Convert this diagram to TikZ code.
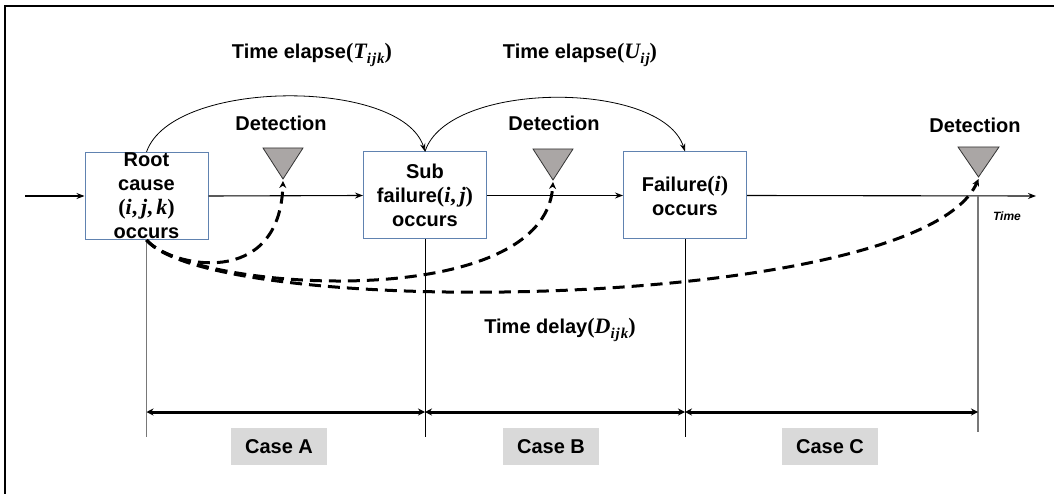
\documentclass[tikz,border=0pt]{standalone}
\usepackage{fontspec}
\setmainfont{Liberation Sans}
\newfontfamily\varserif{Liberation Serif}
\usetikzlibrary{arrows.meta}
% index variables set in a bold italic serif, as in the formulas
\newcommand\vx[1]{{\fontsize{22}{24}\selectfont\varserif\bfseries\itshape #1}}
\newcommand\vp[1]{{\fontsize{22}{24}\selectfont\varserif\bfseries #1}}
\newcommand\vsub[1]{\raisebox{-0.4ex}{\fontsize{15}{16}\selectfont\varserif\bfseries\itshape #1}}
\definecolor{boxedge}{RGB}{96,130,176}
\definecolor{detgray}{RGB}{170,166,165}
\definecolor{casegray}{RGB}{217,217,217}
\definecolor{guide}{RGB}{120,120,120}
\tikzset{
  lbl/.style={font=\fontsize{20}{24}\selectfont\bfseries, inner sep=0pt, align=center},
  eventbox/.style={draw=boxedge, line width=1pt, fill=white, minimum width=123pt, minimum height=87pt, inner sep=0pt},
  flow/.style={line width=1.1pt, -{Stealth[length=8pt,width=6pt]}},
  elapse/.style={line width=0.8pt, -{Stealth[length=8pt,width=5.5pt]}},
  delay/.style={line width=3pt, dash pattern=on 12pt off 7pt, -{Stealth[length=7pt,width=7pt]}},
  span/.style={line width=3pt, {Stealth[length=7pt,width=7pt]}-{Stealth[length=7pt,width=7pt]}},
  detector/.style={draw=black!80, line width=0.8pt, fill=detgray},
  casebox/.style={fill=casegray, minimum width=96pt, minimum height=37pt, inner sep=0pt, font=\fontsize{20}{24}\selectfont\bfseries},
}
\begin{document}
\begin{tikzpicture}[x=1pt,y=-1pt]
\useasboundingbox (0,0) rectangle (1054,494);
% frame
\draw[line width=1.5pt] (5,494) -- (5,6) -- (1054,6);

% event boxes
\node[eventbox] (root) at (146.5,196) {};
\node[eventbox] (sub)  at (425,195.5) {};
\node[eventbox] (fail) at (685,195.5) {};
\node[lbl] (roottxt) at (root.center) {Root\\cause\\\vp{(}\vx{i}\vp{,\,}\vx{j}\vp{,\,}\vx{k}\vp{)}\\occurs};
\node[lbl] (subtxt)  at (sub.center)  {Sub\\failure\vp{(}\vx{i}\vp{,\,}\vx{j}\vp{)}\\occurs};
\node[lbl] (failtxt) at (fail.center) {Failure\vp{(}\vx{i}\vp{)}\\occurs};

% time axis
\coordinate (axisstart) at (25,196);
\coordinate (axisend) at (1036,196);
\draw[flow] (axisstart) -- (root.west);
\draw[flow] (root.east) -- (sub.west);
\draw[flow] (sub.east) -- (fail.west);
\draw[flow] (fail.east) -- (axisend);
\node[font=\fontsize{12}{14}\selectfont\bfseries\itshape] (timelbl) at (1007,216) {Time};

% detection points
\draw[detector] (263,148) -- (303,148) -- (283,179) -- cycle;
\draw[detector] (533,149) -- (573,149) -- (553,180) -- cycle;
\draw[detector] (958,147) -- (999,147) -- (978.5,177) -- cycle;
\coordinate (d1) at (283,181);
\coordinate (d2) at (553,182);
\coordinate (d3) at (978.5,179);
\node[lbl] (det1) at (281,123) {Detection};
\node[lbl] (det2) at (554,123) {Detection};
\node[lbl] (det3) at (975,125) {Detection};

% elapsed times between events
\draw[elapse] (root.north) .. controls (172,78) and (402,78) .. (sub.north);
\draw[elapse] (sub.north) .. controls (448,80) and (662,80) .. (fail.north);
\node[lbl] (telapse) at (312,55) {Time elapse\vp{(}\vx{T}\vsub{i\kern1pt j\kern1pt k}\vp{)}};
\node[lbl] (uelapse) at (580,55) {Time elapse\vp{(}\vx{U}\vsub{i\kern1pt j}\vp{)}};

% guide lines down to the case spans
\coordinate (a0) at (146.5,437);
\coordinate (a1) at (425,437);
\coordinate (a2) at (685,437);
\coordinate (a3) at (978,432);
\draw[guide, line width=1pt] (root.south) -- (a0);
\draw[line width=0.8pt] (sub.south) -- (a1);
\draw[line width=0.8pt] (fail.south) -- (a2);
\draw[guide, line width=1.4pt] (978,196) -- (a3);

% detection delays, all leaving the root cause along one tangent
\draw[delay] (root.south) .. controls (170,267) and (280,290) .. (d1);
\draw[delay] (root.south) .. controls (190,291) and (545,315) .. (d2);
\draw[delay] (root.south) .. controls (215,321) and (920,312) .. (d3);
\node[lbl] (tdelay) at (560,330) {Time delay\vp{(}\vx{D}\vsub{i\kern1pt j\kern1pt k}\vp{)}};

% case spans
\coordinate (s0) at (146.5,412);
\coordinate (s1) at (425,412);
\coordinate (s2) at (685,412);
\coordinate (s3) at (978,412);
\draw[span] (s0) -- (s1);
\draw[span] (s1) -- (s2);
\draw[span] (s2) -- (s3);
\node[casebox] (casea) at (279,446.5) {Case A};
\node[casebox] (caseb) at (551,446.5) {Case B};
\node[casebox] (casec) at (830,446.5) {Case C};
\end{tikzpicture}
\end{document}
